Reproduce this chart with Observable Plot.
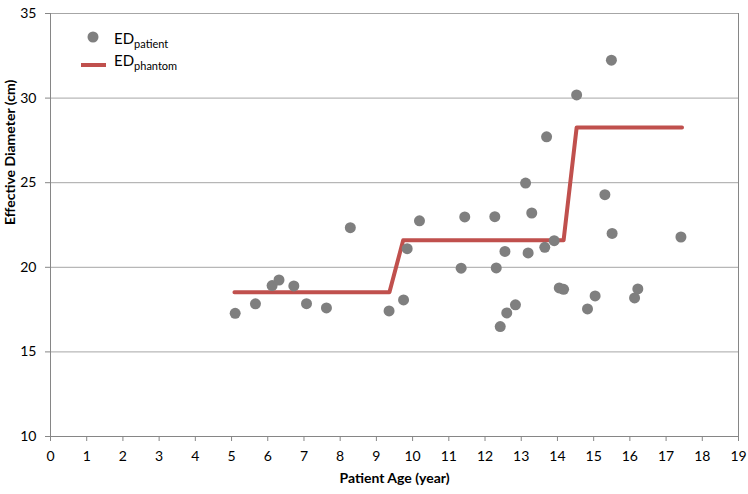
<!DOCTYPE html>
<html><head><meta charset="utf-8">
<script src="https://cdn.jsdelivr.net/npm/d3@7"></script>
<script src="https://cdn.jsdelivr.net/npm/@observablehq/plot@0.6"></script>
<style>body{margin:0;background:#fff}</style>
</head><body><div id="chart"></div>
<script>
const patientAge = [5.10, 5.66, 6.12, 6.31, 6.72, 7.07, 7.62, 8.28, 9.35, 9.75, 9.85, 10.19, 11.34, 11.44, 12.27, 12.31, 12.55, 12.42, 12.60, 12.84, 13.12, 13.29, 13.19, 13.65, 13.70, 13.91, 14.05, 14.17, 14.53, 14.83, 15.04, 15.31, 15.51, 15.49, 16.13, 16.22, 17.41];
const patientED = [17.28, 17.84, 18.92, 19.25, 18.90, 17.85, 17.60, 22.34, 17.42, 18.07, 21.10, 22.75, 19.95, 22.98, 22.99, 19.96, 20.94, 16.50, 17.30, 17.78, 24.98, 23.21, 20.85, 21.18, 27.71, 21.57, 18.78, 18.70, 30.19, 17.54, 18.31, 24.29, 22.00, 32.24, 18.19, 18.72, 21.79];
const phantomAge = [5.08, 9.36, 9.74, 14.17, 14.53, 17.44];
const phantomED = [18.52, 18.52, 21.6, 21.6, 28.26, 28.26];
const xTicks = [0, 1, 2, 3, 4, 5, 6, 7, 8, 9, 10, 11, 12, 13, 14, 15, 16, 17, 18, 19];
const yTicks = [10, 15, 20, 25, 30, 35];
const gridTicks = [15, 20, 25, 30, 35];
const xLabel = "Patient Age (year)";
const yLabel = "Effective Diameter (cm)";

const patients = patientAge.map((a, i) => ({age: a, ed: patientED[i]}));
const phantom = phantomAge.map((a, i) => ({age: a, ed: phantomED[i]}));

const font = "Lato, 'Open Sans', sans-serif";
const axisColor = "#868686";
const plot = Plot.plot({
  width: 748, height: 494,
  marginLeft: 50, marginRight: 10, marginTop: 13, marginBottom: 58,
  style: {fontFamily: font, fontSize: "14px", color: "#000", background: "#fff", overflow: "visible"},
  x: {domain: [0, 19]},
  y: {domain: [10, 35]},
  marks: [
    Plot.gridY(gridTicks, {stroke: "#a6a6a6", strokeOpacity: 1}),
    Plot.ruleX([0], {stroke: axisColor}),
    Plot.ruleX([19], {stroke: axisColor}),
    Plot.ruleY([10], {stroke: axisColor}),
    Plot.axisX(xTicks, {tickSize: 5, tickPadding: 10, stroke: axisColor, fill: "#000", label: null}),
    Plot.axisY(yTicks, {tickSize: 5, tickPadding: 9, stroke: axisColor, fill: "#000", label: null}),
    Plot.line(phantom, {x: "age", y: "ed", stroke: "#c0504d", strokeWidth: 4}),
    Plot.dot(patients, {x: "age", y: "ed", r: 5.5, fill: "#7f7f7f"}),
    Plot.text([xLabel], {text: d => d, frameAnchor: "bottom", dy: 46, fontWeight: "bold", fontSize: 14}),
    Plot.text([yLabel], {text: d => d, frameAnchor: "left", rotate: -90, dx: -40, fontWeight: "bold", fontSize: 14})
  ]
});
document.getElementById("chart").appendChild(plot);

// legend
const svg = d3.select(plot);
const g = svg.append("g").attr("font-family", font).attr("fill", "#000").attr("text-anchor", "start");
g.append("circle").attr("cx", 93).attr("cy", 37).attr("r", 5.5).attr("fill", "#7f7f7f");
const t1 = g.append("text").attr("x", 114).attr("y", 43.5).attr("font-size", 15);
t1.append("tspan").text("ED");
t1.append("tspan").attr("font-size", 11).attr("dy", 4).text("patient");
g.append("line").attr("x1", 81).attr("x2", 106).attr("y1", 65).attr("y2", 65)
  .attr("stroke", "#c0504d").attr("stroke-width", 4);
const t2 = g.append("text").attr("x", 114).attr("y", 65.5).attr("font-size", 15);
t2.append("tspan").text("ED");
t2.append("tspan").attr("font-size", 11).attr("dy", 4).text("phantom");
</script>
</body></html>
